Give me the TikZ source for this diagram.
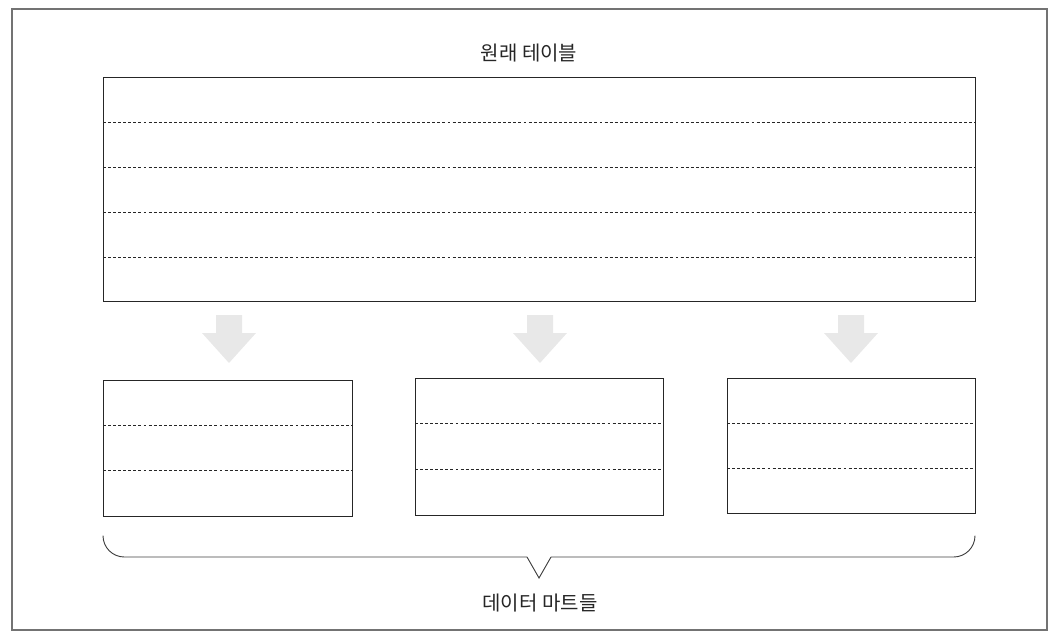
\documentclass[tikz,border=0pt]{standalone}
\usepackage{fontspec}
\newfontfamily\kr{Noto Sans CJK KR}
\begin{document}
\begin{tikzpicture}[x=0.75pt,y=-0.75pt,
  tbl/.style={draw=black!85,line width=0.7pt},
  row/.style={dashed,draw=black!85,line width=0.5pt,dash pattern=on 2.2pt off 1.6pt},
  blockarrow/.style={fill=black!9,draw=none},
  lbl/.style={font=\kr\fontsize{15}{18}\selectfont,text=black!85},
  brace/.style={draw=black!75,line width=0.7pt,rounded corners=16pt}]
\useasboundingbox (0,0) rectangle (1060,642);
\draw[draw=black!55,line width=0.8pt] (12,9) rectangle (1047,630);
\node[lbl] (title) at (529,53) {원래 테이블};
% original table
\draw[tbl] (103,77) coordinate (bt) rectangle (975,301) coordinate (bb);
\foreach \y in {122,167,212,257}{\draw[row] (103,\y) -- (975,\y);}
% small tables
\foreach \n/\xa/\xb/\ya/\yb in {a/103/352/380/516, b/415/663/378/515, c/727/975/378/513}{
  \draw[tbl] (\xa,\ya) coordinate (\n tl) rectangle (\xb,\yb) coordinate (\n br);
  \pgfmathsetmacro{\ra}{\ya+(\yb-\ya)/3}
  \pgfmathsetmacro{\rb}{\ya+2*(\yb-\ya)/3}
  \draw[row] (\xa,\ra) -- (\xb,\ra);
  \draw[row] (\xa,\rb) -- (\xb,\rb);
}
% block arrows
\foreach \n/\cx in {a/229,b/540,c/851}{
  \coordinate (arr\n) at (\cx,315);
  \fill[blockarrow] (\cx-13,315) -- (\cx+13,315) -- (\cx+13,333) -- (\cx+27,333)
     -- (\cx,363) -- (\cx-27,333) -- (\cx-13,333) -- cycle;
}
% brace
\coordinate (bl) at (103,536);
\coordinate (br) at (975,536);
\coordinate (tip) at (539,578);
\draw[brace] (bl) -- (103,557) -- (527,557);
\draw[draw=black!75,line width=0.7pt] (527,557) -- (tip) -- (551,557);
\draw[brace] (551,557) -- (975,557) -- (br);
\node[lbl] (marts) at (540,603) {데이터 마트들};
\end{tikzpicture}
\end{document}
